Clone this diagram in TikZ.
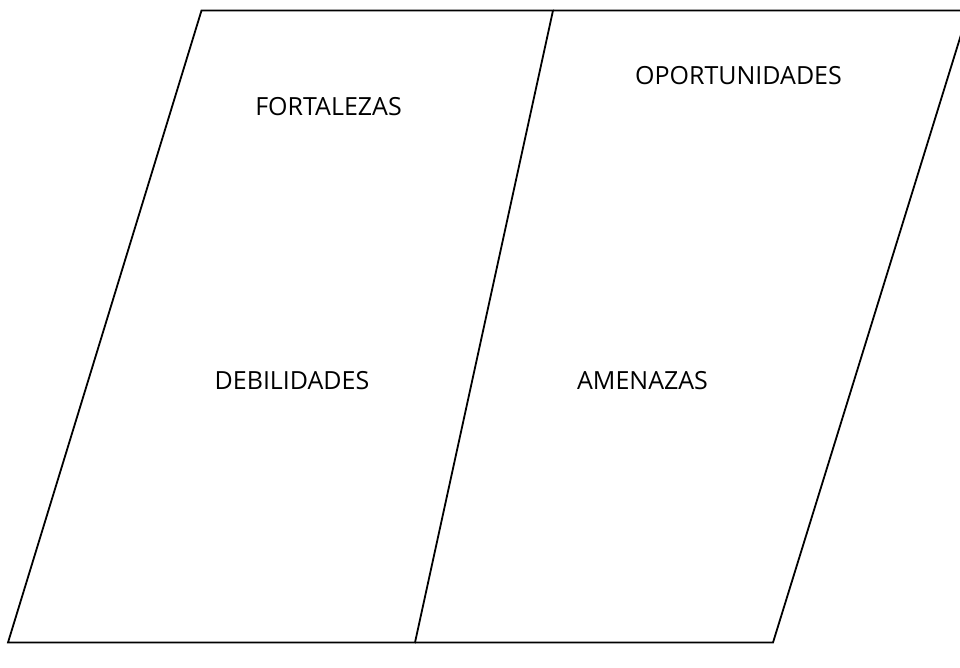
\documentclass[tikz,border=0pt]{standalone}
\usepackage{fontspec}
\setmainfont{Open Sans}
\usetikzlibrary{positioning}

\tikzset{
    lado/.style={draw, line width=1.8pt, line join=miter},
    campo/.style={inner sep=0pt, font=\fontsize{25}{30}\selectfont},
}

\begin{document}
\begin{tikzpicture}[x=1pt, y=-1pt]
            \useasboundingbox (0,0) rectangle (960,667);
            \clip (0,0) rectangle (960,667);

            \coordinate (tl) at (201.5,10.5);
            \coordinate (tm) at (553,10.5);
            \coordinate (tr) at (968.5,10.5);
            \coordinate (bl) at (8,642.5);
            \coordinate (bm) at (415,642.5);
            \coordinate (br) at (773,642.5);

            \draw [lado] (tl) -- (tm) -- (bm) -- (bl) -- cycle;
            \draw [lado] (tm) -- (tr) -- (br) -- (bm);

            \node [campo] (fort) at (328.5,107) {FORTALEZAS};
            \node [campo] (opor) at (738.5,76) {OPORTUNIDADES};
            \node [campo] (debi) at (292,381) {DEBILIDADES};
            \node [campo] (amen) at (642.5,381) {AMENAZAS};
        \end{tikzpicture}
\end{document}
